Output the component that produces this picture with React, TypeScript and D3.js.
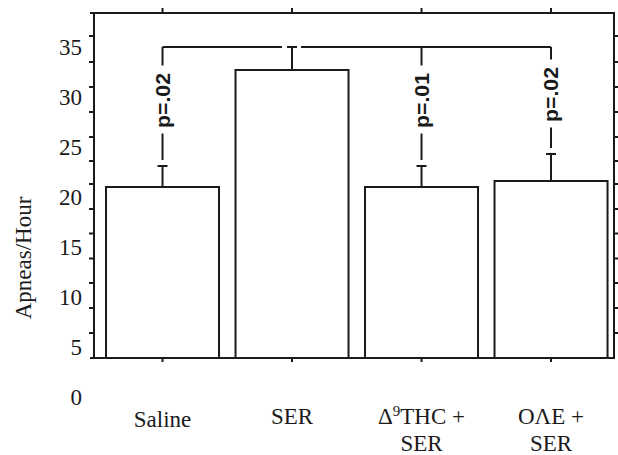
import React from "react";
import * as d3 from "d3";

// ---- data ----
const categories = ["Saline", "SER", "THC", "OAE"];
const means = [21.0, 32.7, 21.0, 21.6];
const errors = [2.1, 2.3, 2.1, 2.7];
const pLabels = ["p=.02", "", "p=.01", "p=.02"];
const referenceIndex = 1;
const yTickLabels = [0, 5, 10, 15, 20, 25, 30, 35];
const yMinorTicks = [6.4, 8.9, 11.4, 13.85, 16.35, 18.8, 21.3, 23.6, 26.0, 28.5, 31.0, 33.5, 36.1];

const W = 618;
const H = 455;
const left = 94;
const right = 614;
const top = 13;
const bottom = 358;
const ink = "#1a1a1a";
const serifStyle = { fontFamily: "Liberation Serif, Tinos, DejaVu Serif, serif" };
const sansStyle = { fontFamily: "Liberation Sans, Arimo, Arial, sans-serif" };

export default function App() {
  const x = d3
    .scaleBand<string>()
    .domain(categories)
    .range([left, right])
    .paddingInner(0.1274)
    .paddingOuter(0.0714)
    .align(0.65);
  const y = d3.scaleLinear().domain([3.9, 38.4]).range([bottom, top]);
  const bw = x.bandwidth();
  const cx = (c: string) => (x(c) as number) + bw / 2;

  const bracketY = y(means[referenceIndex] + errors[referenceIndex]);
  const refX = cx(categories[referenceIndex]);
  const firstX = cx(categories[0]);
  const lastX = cx(categories[categories.length - 1]);

  const T = (props: any) => (
    <text textAnchor="middle" fontSize={23} fill={ink} style={serifStyle} {...props} />
  );

  return (
    <svg width={W} height={H} style={{ position: "absolute", left: 0, top: 0, background: "#fff" }}>
      <rect x={0} y={0} width={W} height={H} fill="#fff" />
      {/* frame */}
      <g stroke={ink} strokeWidth={2} fill="none">
        <line x1={left - 4} x2={right + 1} y1={top} y2={top} />
        <line x1={left - 4} x2={right + 1} y1={bottom} y2={bottom} />
        <line x1={left} x2={left} y1={top} y2={bottom} />
        <line x1={right} x2={right} y1={top} y2={bottom} />
        {yMinorTicks.map((t) => (
          <g key={"t" + t}>
            <line x1={left - 5} x2={left} y1={y(t)} y2={y(t)} />
            <line x1={right} x2={right + 4} y1={y(t)} y2={y(t)} />
          </g>
        ))}
        {categories.map((c) => (
          <g key={"xt" + c}>
            <line x1={cx(c)} x2={cx(c)} y1={top} y2={top - 5} />
            <line x1={cx(c)} x2={cx(c)} y1={bottom} y2={bottom + 4} />
          </g>
        ))}
      </g>
      {/* y tick labels */}
      {yTickLabels.map((v) => (
        <text key={"yl" + v} x={82} y={y(v)} dy="0.35em" textAnchor="end" fontSize={23} fill={ink} style={serifStyle}>
          {v}
        </text>
      ))}
      <text transform={`translate(31, 258) rotate(-90)`} textAnchor="middle" fontSize={23} fill={ink} style={serifStyle}>
        Apneas/Hour
      </text>
      {/* bars */}
      {categories.map((c, i) => (
        <rect
          key={"b" + c}
          x={x(c)}
          y={y(means[i])}
          width={bw}
          height={bottom - y(means[i])}
          fill="#fff"
          stroke={ink}
          strokeWidth={2}
        />
      ))}
      {/* error bars */}
      <g stroke={ink} strokeWidth={2}>
        {categories.map((c, i) => {
          const yt = y(means[i] + errors[i]);
          return (
            <g key={"e" + c}>
              <line x1={cx(c)} x2={cx(c)} y1={y(means[i])} y2={yt} />
              <line x1={cx(c) - 5} x2={cx(c) + 5} y1={yt} y2={yt} />
            </g>
          );
        })}
        {/* bracket */}
        <line x1={firstX} x2={refX - 10} y1={bracketY} y2={bracketY} />
        <line x1={refX + 9} x2={lastX} y1={bracketY} y2={bracketY} />
      </g>
      {/* comparison connectors and p labels */}
      {categories.map((c, i) => {
        if (!pLabels[i]) return null;
        const capY = y(means[i] + errors[i]);
        const tc = (bracketY + capY) / 2 - 6;
        const half = 28;
        return (
          <g key={"p" + c}>
            <line x1={cx(c)} x2={cx(c)} y1={bracketY} y2={tc - half - 7} stroke={ink} strokeWidth={2} />
            <line x1={cx(c)} x2={cx(c)} y1={tc + half + 5} y2={capY - 6} stroke={ink} strokeWidth={2} />
            <text
              transform={`translate(${cx(c)}, ${tc}) rotate(-90)`}
              textAnchor="middle"
              dy="0.36em"
              fontWeight="bold"
              fontSize={20}
              textLength={55}
              lengthAdjust="spacingAndGlyphs"
              fill={ink}
              style={sansStyle}
            >
              {pLabels[i]}
            </text>
          </g>
        );
      })}
      {/* category labels */}
      <T x={cx("Saline")} y={427}>Saline</T>
      <T x={cx("SER")} y={424}>SER</T>
      <T x={cx("THC")} y={424}>
        Δ<tspan fontSize={15} dy={-8}>9</tspan>
        <tspan dy={8}>THC +</tspan>
      </T>
      <T x={cx("THC")} y={451}>SER</T>
      <T x={cx("OAE")} y={424}>OΛE +</T>
      <T x={cx("OAE")} y={451}>SER</T>
    </svg>
  );
}
